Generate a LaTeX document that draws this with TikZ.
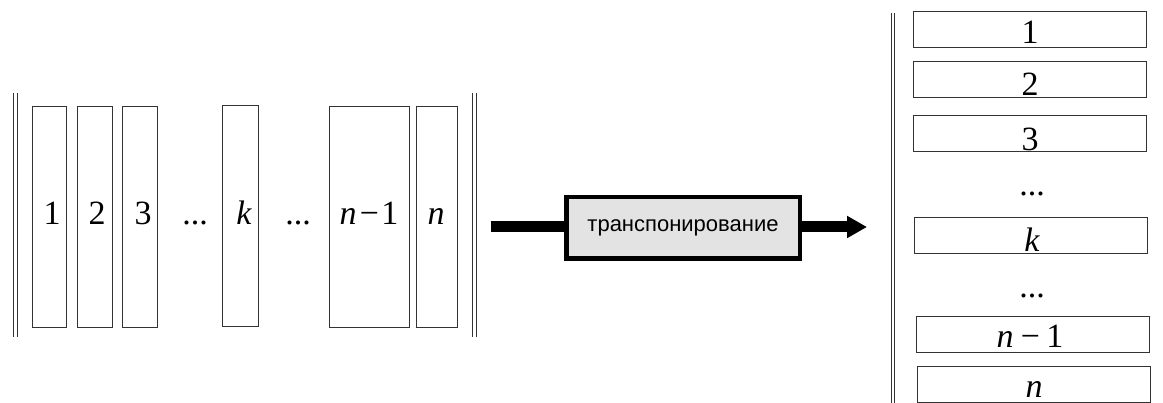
\documentclass[tikz,border=0pt]{standalone}
\usepackage{fontspec}
\setmainfont{Liberation Serif}
\newfontfamily\labelsans{Liberation Sans}
\usetikzlibrary{arrows.meta}
\begin{document}
\begin{tikzpicture}[x=1pt,y=-1pt,
  bar/.style={draw=black!80, line width=1pt},
  colbox/.style={draw=black!80, line width=1pt, inner sep=0pt, minimum height=221pt},
  rowbox/.style={draw=black!80, line width=1pt, inner sep=0pt, minimum width=233pt, minimum height=36pt},
  num/.style={inner sep=0pt, anchor=base, font=\fontsize{34}{40}\selectfont},
  procbox/.style={draw=black, line width=4.5pt, fill=black!11, inner sep=0pt,
    minimum width=233.5pt, minimum height=61.5pt, font=\labelsans\fontsize{22}{26}\selectfont},
  flow/.style={line width=11pt}
]
\useasboundingbox (0,0) rectangle (1163,403);

% left matrix: columns between double bars
\draw[bar] (13,93) -- (13,337);
\draw[bar] (17,93) -- (17,337);
\draw[bar] (472,93) -- (472,337);
\draw[bar] (476,93) -- (476,337);

\node[colbox, minimum width=34pt] (c1) at (49,217.5) {};
\node[colbox, minimum width=35pt] (c2) at (94.5,217.5) {};
\node[colbox, minimum width=35pt] (c3) at (139.5,217.5) {};
\node[colbox, minimum width=36pt] (ck) at (240,216) {};
\node[colbox, minimum width=80pt] (cn1) at (369,217.5) {};
\node[colbox, minimum width=41pt] (cn) at (436.5,217.5) {};

\node[num] (lc1) at (52,225) {1};
\node[num] (lc2) at (97,225) {2};
\node[num] (lc3) at (143,225) {3};
\node[num] (ld1) at (195,225) {...};
\node[num] (lck) at (244,225) {\itshape k};
\node[num] (ld2) at (298,225) {...};
\node[num] (lcn1) at (369,225) {\itshape n\hspace{1pt}−\hspace{1pt}\upshape 1};
\node[num] (lcn) at (436,225) {\itshape n};

% transposition step
\node[procbox] (tr) at (683,228) {транспонирование};
\coordinate (src) at (491,227);
\coordinate (dst) at (867,227);
\draw[flow] (src) -- (src -| tr.west);
\draw[flow, -{Triangle[length=20pt,width=21pt]}] (dst -| tr.east) -- (dst);

% right matrix: rows
\draw[bar] (891,13) -- (891,403);
\draw[bar] (894.5,13) -- (894.5,403);

\node[rowbox] (r1) at (1029.5,30) {};
\node[rowbox] (r2) at (1029.5,80) {};
\node[rowbox] (r3) at (1029.5,134) {};
\node[rowbox] (rk) at (1031,235.5) {};
\node[rowbox] (rn1) at (1033,334.5) {};
\node[rowbox] (rn) at (1034,384.5) {};

\node[num] (rc1) at (1030,44) {1};
\node[num] (rc2) at (1030,96) {2};
\node[num] (rc3) at (1030,151) {3};
\node[num] (rd1) at (1032,196) {...};
\node[num] (rck) at (1032,252) {\itshape k};
\node[num] (rd2) at (1032,298) {...};
\node[num] (rcn1) at (1030,348) {\itshape n\hspace{5pt}−\hspace{5pt}\upshape 1};
\node[num] (rcn) at (1034,398) {\itshape n};
\end{tikzpicture}
\end{document}
